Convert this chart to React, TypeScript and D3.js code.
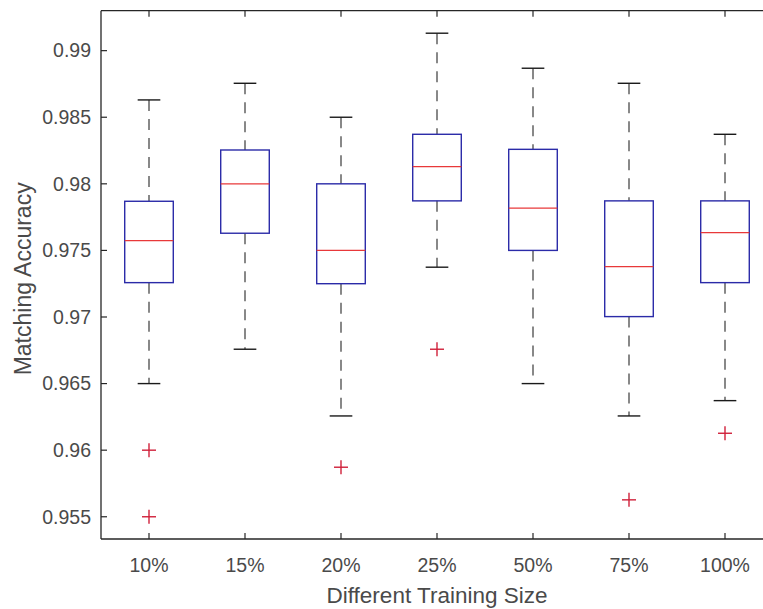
import React from "react";
import * as d3 from "d3";

const categories = ["10%", "15%", "20%", "25%", "50%", "75%", "100%"];
const upperWhisker = [0.9863, 0.98755, 0.985, 0.99131, 0.98868, 0.98755, 0.98372];
const q3 = [0.97869, 0.98254, 0.98, 0.98372, 0.98259, 0.97872, 0.97872];
const medians = [0.97573, 0.98, 0.975, 0.98129, 0.97817, 0.97378, 0.97634];
const q1 = [0.97258, 0.97629, 0.9725, 0.97872, 0.975, 0.97003, 0.97258];
const lowerWhisker = [0.965, 0.96758, 0.96257, 0.97374, 0.965, 0.96257, 0.96372];
const outliers: number[][] = [[0.96, 0.955], [], [0.95872], [0.96758], [], [0.95627], [0.96127]];
const yTicks = [0.955, 0.96, 0.965, 0.97, 0.975, 0.98, 0.985, 0.99];

const W = 763;
const H = 609;

export default function App() {
  const x = d3.scaleLinear().domain([0.5, 7.5]).range([101, 773]);
  const y = d3.scaleLinear().domain([0.95333, 0.993]).range([539, 10.7]);
  const unit = x(2) - x(1);
  const boxHalf = unit * 0.253;
  const capHalf = unit * 0.118;
  const axisColor = "#262626";
  const textColor = "#4a4a4a";
  const font = "'Liberation Sans', Arial, Helvetica, sans-serif";
  const tickLen = 6;
  const left = x.range()[0];
  const right = x.range()[1];
  const top = y.range()[1];
  const bottom = y.range()[0];

  return (
    <svg width={W} height={H} style={{ position: "absolute", left: 0, top: 0, display: "block", background: "#fff" }}>
      <rect x={0} y={0} width={W} height={H} fill="#fff" />
      {/* boxes */}
      {categories.map((c, i) => {
        const cx = x(i + 1);
        return (
          <g key={c}>
            <line x1={cx} x2={cx} y1={y(upperWhisker[i])} y2={y(q3[i])} stroke="#3a3a3a" strokeWidth={1.2} strokeDasharray="11,8" />
            <line x1={cx} x2={cx} y1={y(q1[i])} y2={y(lowerWhisker[i])} stroke="#3a3a3a" strokeWidth={1.2} strokeDasharray="11,8" />
            <line x1={cx - capHalf} x2={cx + capHalf} y1={y(upperWhisker[i])} y2={y(upperWhisker[i])} stroke="#1a1a1a" strokeWidth={1.4} />
            <line x1={cx - capHalf} x2={cx + capHalf} y1={y(lowerWhisker[i])} y2={y(lowerWhisker[i])} stroke="#1a1a1a" strokeWidth={1.4} />
            <rect x={cx - boxHalf} y={y(q3[i])} width={boxHalf * 2} height={y(q1[i]) - y(q3[i])} fill="none" stroke="#2b2ba8" strokeWidth={1.4} />
            <line x1={cx - boxHalf} x2={cx + boxHalf} y1={y(medians[i])} y2={y(medians[i])} stroke="#e8383a" strokeWidth={1.3} />
            {outliers[i].map((v, j) => (
              <g key={j} stroke="#d0203a" strokeWidth={1.4}>
                <line x1={cx - 7} x2={cx + 7} y1={y(v)} y2={y(v)} />
                <line x1={cx} x2={cx} y1={y(v) - 7} y2={y(v) + 7} />
              </g>
            ))}
          </g>
        );
      })}
      {/* axes frame */}
      <line x1={left} x2={right} y1={top} y2={top} stroke={axisColor} strokeWidth={1.3} />
      <line x1={left} x2={right} y1={bottom} y2={bottom} stroke={axisColor} strokeWidth={1.3} />
      <line x1={left} x2={left} y1={top} y2={bottom} stroke={axisColor} strokeWidth={1.3} />
      <line x1={right} x2={right} y1={top} y2={bottom} stroke={axisColor} strokeWidth={1.3} />
      {/* y ticks */}
      {yTicks.map((t) => (
        <g key={t}>
          <line x1={left} x2={left + tickLen} y1={y(t)} y2={y(t)} stroke={axisColor} strokeWidth={1.2} />
          <line x1={right} x2={right - tickLen} y1={y(t)} y2={y(t)} stroke={axisColor} strokeWidth={1.2} />
          <text x={left - 10} y={y(t)} dy="0.35em" textAnchor="end" fontFamily={font} fontSize={19.5} fill={textColor}>
            {String(t)}
          </text>
        </g>
      ))}
      {/* x ticks */}
      {categories.map((c, i) => (
        <g key={c}>
          <line x1={x(i + 1)} x2={x(i + 1)} y1={bottom} y2={bottom - tickLen} stroke={axisColor} strokeWidth={1.2} />
          <line x1={x(i + 1)} x2={x(i + 1)} y1={top} y2={top + tickLen} stroke={axisColor} strokeWidth={1.2} />
          <text x={x(i + 1)} y={572} textAnchor="middle" fontFamily={font} fontSize={19.5} fill={textColor}>
            {c}
          </text>
        </g>
      ))}
      <text x={(left + right) / 2} y={603} textAnchor="middle" fontFamily={font} fontSize={22.5} fill={textColor}>
        Different Training Size
      </text>
      <text transform={`translate(31,${(top + bottom) / 2 + 4}) rotate(-90)`} textAnchor="middle" fontFamily={font} fontSize={23} fill={textColor}>
        Matching Accuracy
      </text>
    </svg>
  );
}
